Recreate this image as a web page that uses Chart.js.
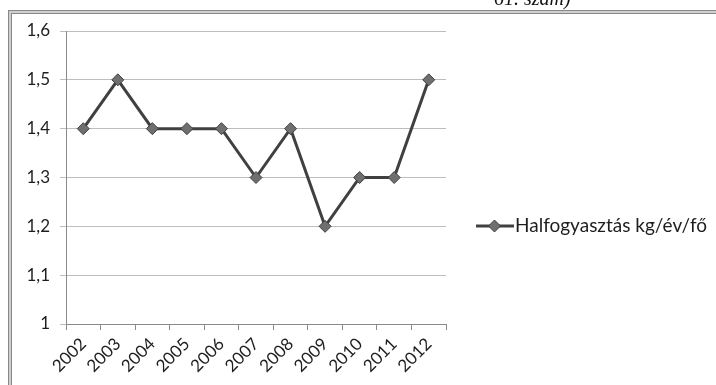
<!DOCTYPE html>
<html>
<head>
<meta charset="utf-8">
<script src="https://cdn.jsdelivr.net/npm/chart.js@4/dist/chart.umd.min.js"></script>
<style>
  html, body { margin: 0; padding: 0; background: #fff; }
  #wrap { position: relative; width: 716px; height: 385px; }
</style>
</head>
<body>
<div id="wrap"><canvas id="c" width="716" height="385"></canvas></div>
<script>
// Fish consumption per capita, 2002–2012
const years = ['2002','2003','2004','2005','2006','2007','2008','2009','2010','2011','2012'];
const consumption = [1.4, 1.5, 1.4, 1.4, 1.4, 1.3, 1.4, 1.2, 1.3, 1.3, 1.5];
const seriesName = 'Halfogyasztás kg/év/fő';
const yTicks = [1, 1.1, 1.2, 1.3, 1.4, 1.5, 1.6];
const headerText = '61. szám)';

const FONT = 'Lato, "Open Sans", sans-serif';
const LINE = '#404040';
const MARK = '#6f6f6f';
const TEXT = '#1e1e1e';

// Page frame and header line underneath; legend on top
const pagePlugin = {
  id: 'page',
  beforeDraw(chart) {
    const ctx = chart.ctx;
    ctx.save();
    ctx.fillStyle = '#fff';
    ctx.fillRect(0, 0, chart.width, chart.height);
    // double frame lines (top and left)
    ctx.fillStyle = '#888';
    ctx.fillRect(8, 10, 716 - 8, 4);
    ctx.fillRect(8, 10, 4, 385 - 10);
    ctx.fillStyle = '#cfcfcf';
    ctx.fillRect(9, 11, 716 - 9, 2);
    ctx.fillRect(9, 11, 2, 385 - 11);
    // header line, clipped by the top edge
    ctx.fillStyle = '#111';
    ctx.font = 'italic 20px "Liberation Serif", serif';
    ctx.textBaseline = 'alphabetic';
    ctx.fillText(headerText, 494, 5);
    ctx.restore();
  },
  afterDraw(chart) {
    const ctx = chart.ctx;
    ctx.save();
    const ly = 226;
    ctx.strokeStyle = LINE;
    ctx.lineWidth = 3;
    ctx.beginPath();
    ctx.moveTo(476, ly);
    ctx.lineTo(514, ly);
    ctx.stroke();
    ctx.fillStyle = MARK;
    ctx.lineWidth = 1;
    ctx.beginPath();
    ctx.moveTo(494.5, ly - 6);
    ctx.lineTo(500.5, ly);
    ctx.lineTo(494.5, ly + 6);
    ctx.lineTo(488.5, ly);
    ctx.closePath();
    ctx.fill();
    ctx.stroke();
    ctx.fillStyle = TEXT;
    ctx.font = '19px ' + FONT;
    ctx.textBaseline = 'middle';
    ctx.fillText(seriesName, 515, ly);
    ctx.restore();
  }
};

new Chart(document.getElementById('c'), {
  type: 'line',
  data: {
    labels: years,
    datasets: [{
      label: seriesName,
      data: consumption,
      borderColor: LINE,
      borderWidth: 3,
      backgroundColor: MARK,
      pointStyle: 'rectRot',
      pointRadius: 6,
      pointBorderColor: LINE,
      pointBorderWidth: 1,
      pointBackgroundColor: MARK,
      tension: 0,
      fill: false
    }]
  },
  options: {
    responsive: false,
    animation: false,
    devicePixelRatio: 1,
    layout: { padding: { left: 12, right: 270, top: 31, bottom: 6 } },
    plugins: { legend: { display: false }, tooltip: { enabled: false } },
    scales: {
      x: {
        offset: true,
        grid: {
          offset: true,
          drawOnChartArea: false,
          drawTicks: true,
          tickLength: 6,
          color: '#8a8a8a'
        },
        border: { color: '#8a8a8a', width: 1 },
        ticks: {
          autoSkip: false,
          minRotation: 45,
          maxRotation: 45,
          padding: 4,
          color: TEXT,
          font: { family: FONT, size: 17 }
        },
        afterFit(scale) { scale.height = 55; }
      },
      y: {
        min: 1,
        max: 1.6,
        afterBuildTicks(scale) { scale.ticks = yTicks.map(v => ({ value: v })); },
        grid: {
          color: '#bdbdbd',
          tickLength: 6,
          drawTicks: true
        },
        border: { color: '#8a8a8a', width: 1 },
        ticks: {
          color: TEXT,
          padding: 10,
          font: { family: FONT, size: 17 },
          callback: (v) => String(Math.round(v * 10) / 10).replace('.', ',')
        },
        afterFit(scale) { scale.width = 54; }
      }
    }
  },
  plugins: [pagePlugin]
});
</script>
</body>
</html>
